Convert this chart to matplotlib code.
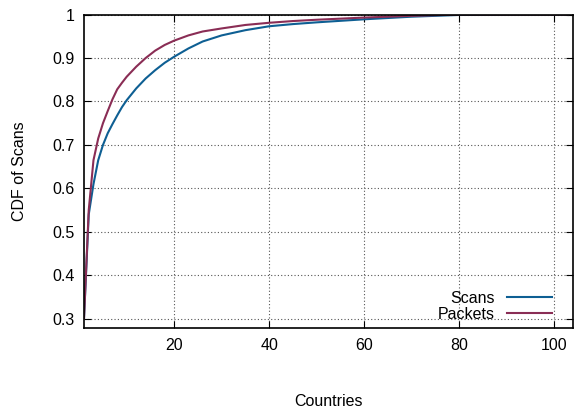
import matplotlib.pyplot as plt
import numpy as np

plt.rcParams['font.family'] = ['Liberation Sans', 'DejaVu Sans']

# countries (x) and CDF values
countries = [1, 2, 3, 4, 5, 6, 7, 8, 9, 10, 12, 14, 16, 18, 20, 23, 26, 30, 35, 40, 45, 50, 60, 70, 80, 90, 103]
scans = [0.30, 0.54, 0.61, 0.665, 0.70, 0.727, 0.748, 0.768, 0.787, 0.803, 0.83, 0.853, 0.872, 0.889, 0.903, 0.922, 0.938, 0.952, 0.964, 0.973, 0.978, 0.982, 0.989, 0.995, 0.999, 1.0, 1.0]
packets = [0.30, 0.55, 0.665, 0.715, 0.75, 0.778, 0.805, 0.828, 0.843, 0.857, 0.88, 0.90, 0.917, 0.93, 0.94, 0.952, 0.961, 0.968, 0.976, 0.981, 0.985, 0.988, 0.993, 0.997, 1.0, 1.0, 1.0]

fig = plt.figure(figsize=(5.76, 4.15), dpi=100)
ax = fig.add_axes([0.1458, 0.2096, 0.849, 0.7554])

ax.plot(countries, scans, color='#0e5f93', lw=1.5, label='Scans')
ax.plot(countries, packets, color='#8a2d55', lw=1.5, label='Packets')

ax.set_xlim(1, 104)
ax.set_ylim(0.279, 1.0)
ax.set_xticks([20, 40, 60, 80, 100])
ax.set_yticks([0.3, 0.4, 0.5, 0.6, 0.7, 0.8, 0.9, 1.0])
ax.set_yticklabels(['0.3', '0.4', '0.5', '0.6', '0.7', '0.8', '0.9', '1'])
ax.tick_params(direction='in', top=True, right=True, labelsize=11.5, length=5, pad=7)
ax.grid(True, ls=(0, (1, 2)), color='#555555', lw=0.8)
for s in ax.spines.values():
    s.set_linewidth(1.2)

ax.set_xlabel('Countries', fontsize=11.5, labelpad=30)
ax.set_ylabel('CDF of Scans', fontsize=11.5, labelpad=18)

leg = ax.legend(loc='lower right', markerfirst=False, frameon=False, fontsize=11.5,
                handlelength=2.8, labelspacing=0.05, borderaxespad=0.3,
                bbox_to_anchor=(0.98, -0.015))

fig.savefig('out.png', dpi=100)
